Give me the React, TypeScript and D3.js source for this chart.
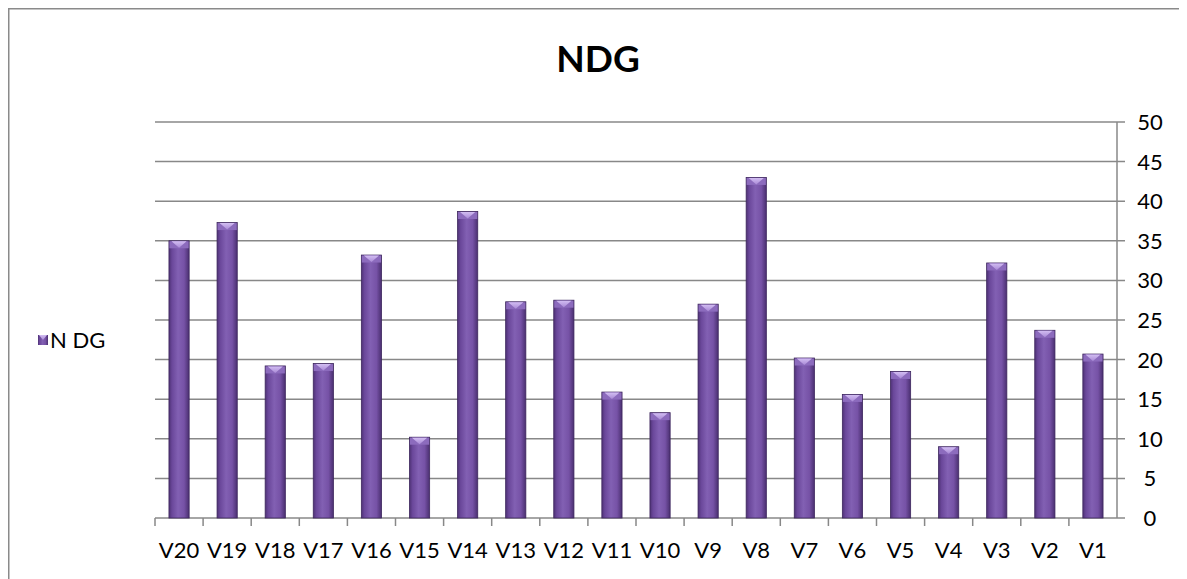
import * as React from 'react';
import * as d3 from 'd3';

const categories = ['V20', 'V19', 'V18', 'V17', 'V16', 'V15', 'V14', 'V13', 'V12', 'V11', 'V10', 'V9', 'V8', 'V7', 'V6', 'V5', 'V4', 'V3', 'V2', 'V1'];
const values = [35, 37.3, 19.2, 19.5, 33.2, 10.2, 38.7, 27.3, 27.5, 15.9, 13.3, 27, 43, 20.2, 15.6, 18.5, 9, 32.2, 23.7, 20.7];
const yTicks = [0, 5, 10, 15, 20, 25, 30, 35, 40, 45, 50];
const seriesName = 'N DG';
const title = 'NDG';

const W = 1179;
const H = 571;
const plot = { left: 147, right: 1109, top: 114, bottom: 510 };
const font = 'Lato, "Open Sans", sans-serif';

const App = () => {
  const x = d3.scaleBand().domain(categories).range([plot.left, plot.right]).paddingInner(0.58).paddingOuter(0.29);
  const y = d3.scaleLinear().domain([0, 50]).range([plot.bottom, plot.top]);
  const step = x.step();
  const bw = x.bandwidth();

  return (
    <svg width={W} height={H} style={{ display: 'block' }}>
      <defs>
        <linearGradient id='barGrad' x1='0' x2='1' y1='0' y2='0'>
          <stop offset='0' stopColor='#4e3275' />
          <stop offset='0.15' stopColor='#6a479a' />
          <stop offset='0.45' stopColor='#8260b3' />
          <stop offset='0.75' stopColor='#7652a6' />
          <stop offset='1' stopColor='#4a2f70' />
        </linearGradient>
        <linearGradient id='capGrad' x1='0' x2='0' y1='0' y2='1'>
          <stop offset='0' stopColor='#d2bdf2' />
          <stop offset='1' stopColor='#a98ad6' />
        </linearGradient>
      </defs>
      <rect x={0.5} y={0.5} width={W + 20} height={H + 20} fill='white' stroke='#8a8a8a' strokeWidth={2} />
      <text x={590} y={64} textAnchor='middle' fontFamily={font} fontWeight='bold' fontSize={37} fill='#000'>
        {title}
      </text>
      {yTicks.map((t) => (
        <g key={t}>
          <line x1={plot.left} x2={plot.right + 8} y1={y(t)} y2={y(t)} stroke='#888' strokeWidth={1.5} />
          <text x={plot.right + 33} y={y(t)} dy='0.36em' textAnchor='middle' fontFamily={font} fontSize={22} fill='#000'>
            {t}
          </text>
        </g>
      ))}
      <line x1={plot.right} x2={plot.right} y1={plot.top} y2={plot.bottom} stroke='#888' strokeWidth={1.5} />
      {categories.map((c, i) => (
        <line key={c} x1={plot.left + i * step} x2={plot.left + i * step} y1={plot.bottom} y2={plot.bottom + 8} stroke='#888' strokeWidth={1.5} />
      ))}
      {categories.map((c, i) => {
        const bx = x(c) as number;
        const top = y(values[i]);
        const capH = 7;
        return (
          <g key={c}>
            <rect x={bx} y={top} width={bw} height={plot.bottom - top} fill='url(#barGrad)' stroke='#3e275e' strokeWidth={0.8} />
            <rect x={bx + 0.5} y={top + 0.5} width={bw - 1} height={capH} fill='#8c6bbd' />
            <path d={`M${bx + 2.5},${top + 0.5} L${bx + bw - 2.5},${top + 0.5} L${bx + bw / 2},${top + capH} Z`} fill='url(#capGrad)' />
            <text x={bx + bw / 2} y={plot.bottom + 40} textAnchor='middle' fontFamily={font} fontSize={22} fill='#000'>
              {c}
            </text>
          </g>
        );
      })}
      <g transform='translate(30 327)'>
        <rect x={0} y={0} width={10} height={10} fill='url(#barGrad)' />
        <path d='M1,0 L9,0 L5,5 Z' fill='url(#capGrad)' />
        <text x={12} y={5} dy='0.36em' fontFamily={font} fontSize={22} fill='#000'>
          {seriesName}
        </text>
      </g>
    </svg>
  );
};

export default App;
